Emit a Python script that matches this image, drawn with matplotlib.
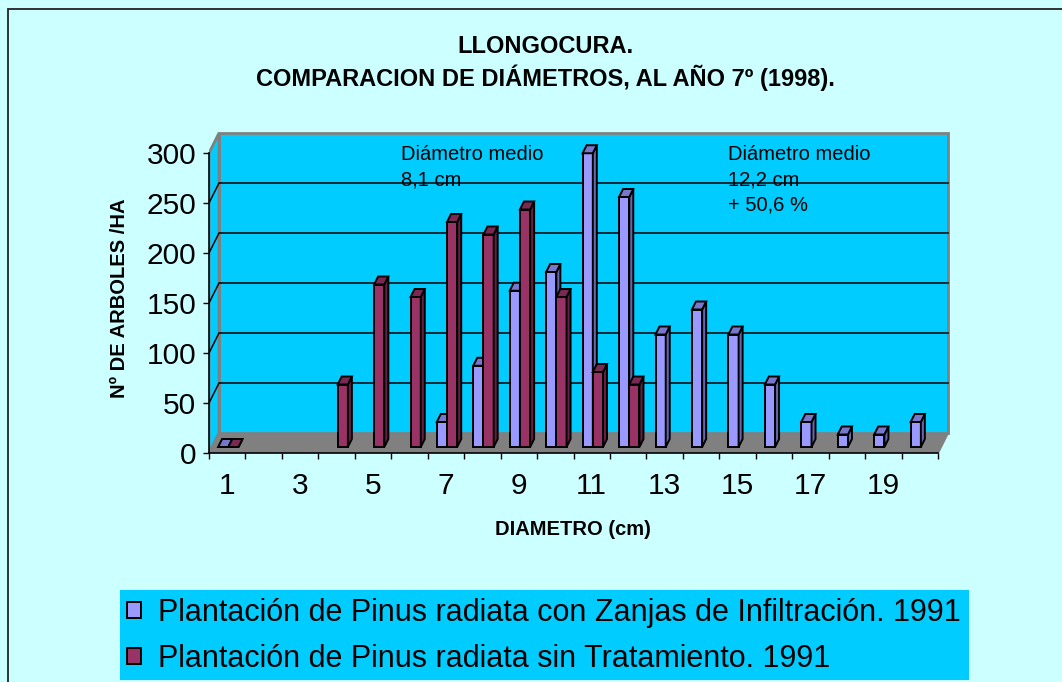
import numpy as np
import matplotlib
matplotlib.use('Agg')
from matplotlib import pyplot as plt
from matplotlib.patches import Polygon, Rectangle, Patch

plt.rcParams['font.family'] = ['Liberation Sans', 'DejaVu Sans']

# data (trees per ha by diameter class)
diametros = list(range(1, 21))
con_zanjas = [0, None, None, None, None, None, 25, 81.25, 156.25, 175,
              293.75, 250, 112.5, 137.5, 112.5, 62.5, 25, 12.5, 12.5, 25]
sin_trat = [0, None, None, 62.5, 162.5, 150, 225, 212.5, 237.5, 150,
            75, 62.5, None, None, None, None, None, None, None, None]
etiquetas = ['Plantación de Pinus radiata con Zanjas de Infiltración. 1991',
             'Plantación de Pinus radiata sin Tratamiento. 1991']
yticks = [0, 50, 100, 150, 200, 250, 300]

W, H = 1062, 682
BG = '#CCFFFF'
WALL = '#00CCFF'
FLOOR = '#808080'
BLUE, BLUE_TOP, BLUE_SIDE = '#9999FF', '#7777CC', '#6666AA'
RED, RED_TOP, RED_SIDE = '#993366', '#7A2952', '#661F44'

DX, DY = 10 / 36.45, 20.0       # depth of the 3d box in data units
F0, F1 = 0.3, 0.7               # depth slice taken by the bars

fig = plt.figure(figsize=(W / 100, H / 100), dpi=100, facecolor=BG)
ax = fig.add_axes([209 / W, (H - 453) / H, (960 - 209) / W, (453 - 120) / H])
ax.set_facecolor('none')
ax.set_xlim(0.5, 0.5 + (960 - 209) / 36.45)
ax.set_ylim(0, 333)

# back wall, side wall, floor
top = yticks[-1]
ax.add_patch(Rectangle((0.5 + DX, DY), 20, top, facecolor=WALL, edgecolor=FLOOR, lw=2, zorder=0.5))
ax.add_patch(Polygon([(0.5, 0), (0.5 + DX, DY), (0.5 + DX, top + DY), (0.5, top)],
                     facecolor=WALL, edgecolor=FLOOR, lw=2, zorder=0.5))
for v in yticks[1:-1]:
    ax.plot([0.5, 0.5 + DX, 20.5 + DX], [v, v + DY, v + DY], color='black', lw=1.1, zorder=0.6)
ax.add_patch(Polygon([(0.5, 0), (20.5, 0), (20.5 + DX, DY), (0.5 + DX, DY)],
                     facecolor=FLOOR, edgecolor='none', zorder=0.7))
ax.plot([20.5, 20.5 + DX], [0, DY], color=FLOOR, lw=1.5, zorder=0.7)

# 3d-ish bars
bw = 0.28
bx = DX * (F1 - F0)
by = DY * (F1 - F0)
base = DY * F0
z = 2
for c, vb, vr in zip(diametros, con_zanjas, sin_trat):
    for v, x0, fc, tc, sc in [(vb, c - 0.25, BLUE, BLUE_TOP, BLUE_SIDE),
                              (vr, c + 0.03, RED, RED_TOP, RED_SIDE)]:
        if v is None:
            continue
        t = base + v
        ax.bar(x0, v, width=bw, bottom=base, align='edge', color=fc,
               edgecolor='black', lw=1.4, zorder=z)
        ax.add_patch(Polygon([(x0 + bw, base), (x0 + bw + bx, base + by),
                              (x0 + bw + bx, t + by), (x0 + bw, t)],
                             facecolor=sc, edgecolor='black', lw=1.4, zorder=z))
        ax.add_patch(Polygon([(x0, t), (x0 + bw, t), (x0 + bw + bx, t + by), (x0 + bx, t + by)],
                             facecolor=tc, edgecolor='black', lw=1.4, zorder=z))
        z += 1

# axes
for s in ['top', 'right']:
    ax.spines[s].set_visible(False)
ax.spines['left'].set_bounds(0, 300)
ax.spines['bottom'].set_bounds(0.5, 20.5)
ax.spines['left'].set_linewidth(1.2)
ax.spines['bottom'].set_linewidth(1.2)
ax.set_yticks(yticks)
ax.set_yticklabels([str(v) for v in yticks], fontsize=21.5)
ax.tick_params(axis='y', direction='out', length=4.3, width=1.0, pad=5)
ax.set_xticks(np.arange(0.5, 21, 1))
ax.set_xticklabels([])
ax.set_xticks(diametros[::2], minor=True)
ax.set_xticklabels([str(d) for d in diametros[::2]], minor=True, fontsize=21.5)
ax.tick_params(axis='x', which='major', direction='out', length=4.3, width=1.0)
ax.tick_params(axis='x', which='minor', length=0, pad=14)

ax.set_xlabel('DIAMETRO (cm)', fontsize=14.5, fontweight='bold')
ax.xaxis.set_label_coords((573 - 209) / 751, (453 - 520) / 333)
ax.set_ylabel('Nº DE ARBOLES /HA', fontsize=14.5, fontweight='bold')
ax.yaxis.set_label_coords((129 - 209) / 751, (453 - 298) / 333)

ax.text(5.77, 308, 'Diámetro medio\n8,1 cm', fontsize=14.5, va='top', ha='left',
        linespacing=1.42, zorder=50)
ax.text(14.74, 308, 'Diámetro medio\n12,2 cm\n+ 50,6 %', fontsize=14.5, va='top', ha='left',
        linespacing=1.42, zorder=50)

fig.text(545 / W, 1 - 35 / H, 'LLONGOCURA.\nCOMPARACION DE DIÁMETROS, AL AÑO 7º (1998).',
         ha='center', va='top', fontsize=17, fontweight='bold', linespacing=1.3)

# outer frame and legend box
fig.patches.append(Rectangle((8 / W, -0.1), 1.0, 1 - 9 / H + 0.1, transform=fig.transFigure,
                             fill=False, edgecolor='#222222', lw=1.3))
fig.patches.append(Rectangle((120 / W, (H - 680) / H), 849 / W, 90 / H, transform=fig.transFigure,
                             facecolor=WALL, edgecolor='none'))
handles = [Patch(facecolor=BLUE, edgecolor='black', lw=1.4),
           Patch(facecolor=RED, edgecolor='black', lw=1.4)]
fig.legend(handles, etiquetas, loc='upper left', bbox_to_anchor=(127 / W, 1 - 598 / H),
           frameon=False, fontsize=22, borderpad=0, borderaxespad=0,
           handlelength=0.45, handleheight=0.45, handletextpad=0.55, labelspacing=0.52)

fig.savefig('out.png', dpi=100, facecolor=BG)
